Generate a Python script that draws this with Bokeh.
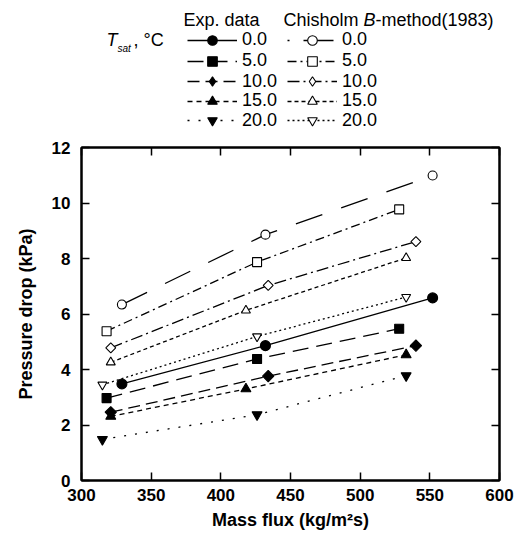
import math
from bokeh.plotting import figure
from bokeh.models import Range1d, LinearAxis, Legend, LegendItem, Label, FixedTicker
from bokeh.layouts import column
from bokeh.embed import file_html
from bokeh.resources import INLINE

# ---- data ----
temps = ["0.0", "5.0", "10.0", "15.0", "20.0"]
mass_flux_0 = [329, 432, 552]
mass_flux_5 = [318, 426, 528]
mass_flux_10 = [321, 434, 540]
mass_flux_15 = [321, 418, 533]
mass_flux_20 = [315, 426, 533]
exp_0 = [3.48, 4.86, 6.58]
exp_5 = [2.97, 4.38, 5.47]
exp_10 = [2.46, 3.76, 4.86]
exp_15 = [2.31, 3.30, 4.53]
exp_20 = [1.48, 2.37, 3.78]
chis_0 = [6.34, 8.86, 10.99]
chis_5 = [5.38, 7.87, 9.77]
chis_10 = [4.78, 7.03, 8.61]
chis_15 = [4.26, 6.13, 8.02]
chis_20 = [3.45, 5.19, 6.61]
x_ticks = [300, 350, 400, 450, 500, 550, 600]
y_ticks = [0, 2, 4, 6, 8, 10, 12]

xs = [mass_flux_0, mass_flux_5, mass_flux_10, mass_flux_15, mass_flux_20]
exps = [exp_0, exp_5, exp_10, exp_15, exp_20]
chis = [chis_0, chis_5, chis_10, chis_15, chis_20]

FONT = "Liberation Sans"
LEFT = 81
FW = 418
FH = 333
HEAD_H = 140

# ---------------- main plot ----------------
p = figure(frame_width=FW, frame_height=FH, output_backend="svg", toolbar_location=None,
           x_range=Range1d(300, 600), y_range=Range1d(0, 12),
           min_border_left=LEFT, min_border_right=16, min_border_top=7, min_border_bottom=50,
           background_fill_color="white", border_fill_color="white")
p.grid.visible = False
p.outline_line_color = "black"
p.outline_line_width = 2

for ax in (p.xaxis[0], p.yaxis[0]):
    ax.major_tick_in = 8
    ax.major_tick_out = 0
    ax.minor_tick_in = 0
    ax.minor_tick_out = 0
    ax.axis_line_width = 2
    ax.major_tick_line_width = 1.5
    ax.major_label_text_font = FONT
    ax.major_label_text_font_style = "bold"
    ax.major_label_text_font_size = "17px"
    ax.major_label_text_color = "black"
    ax.axis_label_text_font = FONT
    ax.axis_label_text_font_style = "bold"
    ax.axis_label_text_font_size = "18px"
    ax.axis_label_text_color = "black"

p.xaxis[0].ticker = FixedTicker(ticks=x_ticks)
p.yaxis[0].ticker = FixedTicker(ticks=y_ticks)
p.xaxis[0].axis_label = "Mass flux (kg/m\u00b2s)"
p.yaxis[0].axis_label = "Pressure drop (kPa)"
p.xaxis[0].major_label_standoff = 8
p.xaxis[0].axis_label_standoff = 6
p.yaxis[0].major_label_standoff = 11
p.yaxis[0].axis_label_standoff = 13

for loc, ticks in (("above", x_ticks), ("right", y_ticks)):
    a = LinearAxis(ticker=FixedTicker(ticks=ticks), major_label_text_color=None,
                   major_label_text_font_size="1px",
                   major_tick_in=8, major_tick_out=0, minor_tick_in=0, minor_tick_out=0,
                   axis_line_width=2, major_tick_line_width=1.5, major_label_standoff=0)
    p.add_layout(a, loc)

exp_markers = [("circle", 10, 0), ("square", 9, 0), ("square", 8, math.pi / 4),
               ("triangle", 10, 0), ("inverted_triangle", 10, 0)]
chis_markers = [("circle", 9, 0), ("square", 9, 0), ("square", 7, math.pi / 4),
                ("triangle", 9, 0), ("inverted_triangle", 9, 0)]
exp_dash = ["solid", "16 8", "12 6", "5 4", "2 9"]
chis_dash = ["28 20", "9 4 2 4", "12 4 2 4", "4 3", "2 3"]


def draw(fig, x, y, dash, marker, filled, visible=True):
    mk, sz, ang = marker
    ln = fig.line(x, y, line_color="black", line_width=1.3, line_dash=dash)
    sc = fig.scatter(x, y, marker=mk, size=sz, angle=ang,
                     fill_color="black" if filled else "white",
                     line_color="black", line_width=1.1)
    ln.visible = visible
    sc.visible = visible
    return ln, sc


for i in range(5):
    draw(p, xs[i], chis[i], chis_dash[i], chis_markers[i], False)
for i in range(5):
    draw(p, xs[i], exps[i], exp_dash[i], exp_markers[i], True)

# ---------------- header (legend) ----------------
h = figure(frame_width=FW, frame_height=HEAD_H, output_backend="svg", toolbar_location=None,
           x_range=Range1d(LEFT, LEFT + FW), y_range=Range1d(HEAD_H, 0),
           x_axis_type=None, y_axis_type=None,
           min_border_left=LEFT, min_border_right=16, min_border_top=0, min_border_bottom=0,
           background_fill_color="white", border_fill_color="white")
h.grid.visible = False
h.outline_line_color = None

# legend samples: diamonds use the diamond marker (legend glyphs are not rotated)
leg_exp_markers = list(exp_markers)
leg_exp_markers[2] = ("diamond", 11, 0)
leg_chis_markers = list(chis_markers)
leg_chis_markers[2] = ("diamond", 10, 0)
leg_chis_dash = list(chis_dash)
leg_chis_dash[0] = "2 14 30 10"

row_y = [39.5, 60.5, 81, 100.5, 120]


def single_legend(renderers, label, px, row, gw, standoff):
    vy = HEAD_H - (row_y[row] + 12)
    return Legend(items=[LegendItem(label=label, renderers=list(renderers))],
                  location=(px - LEFT, vy), orientation="vertical",
                  glyph_width=gw, glyph_height=24, label_height=24, spacing=0,
                  padding=0, margin=0, label_standoff=standoff,
                  label_text_font=FONT, label_text_font_size="18px",
                  label_text_color="black", click_policy="none",
                  inactive_fill_alpha=0,
                  border_line_alpha=0, background_fill_alpha=0)


for i in range(5):
    r = draw(h, xs[i], exps[i], exp_dash[i], leg_exp_markers[i], True, visible=False)
    h.add_layout(single_legend(r, temps[i], 187, i, 50, 5))
    r = draw(h, xs[i], chis[i], leg_chis_dash[i], leg_chis_markers[i], False, visible=False)
    h.add_layout(single_legend(r, temps[i], 287, i, 50, 5))


def lab(text, x, y, xo=0, yo=0, size="18px", style="normal"):
    h.add_layout(Label(x=x, y=y, x_offset=xo, y_offset=yo, text=text,
                       text_font=FONT, text_font_size=size, text_font_style=style,
                       text_color="black", text_baseline="middle", text_align="left"))


lab("Exp. data", 183, 19)
lab("Chisholm ", 283, 19)
lab("B", 283, 19, xo=80.0, style="italic")
lab("-method(1983)", 283, 19, xo=92.0)
lab("T", 106, 39.5, style="italic")
lab("sat", 117, 47.5, size="10px", style="italic")
lab(", \u00b0C", 133, 39.5)

layout = column(h, p, spacing=0)
open("out.html", "w").write(file_html(layout, INLINE))
